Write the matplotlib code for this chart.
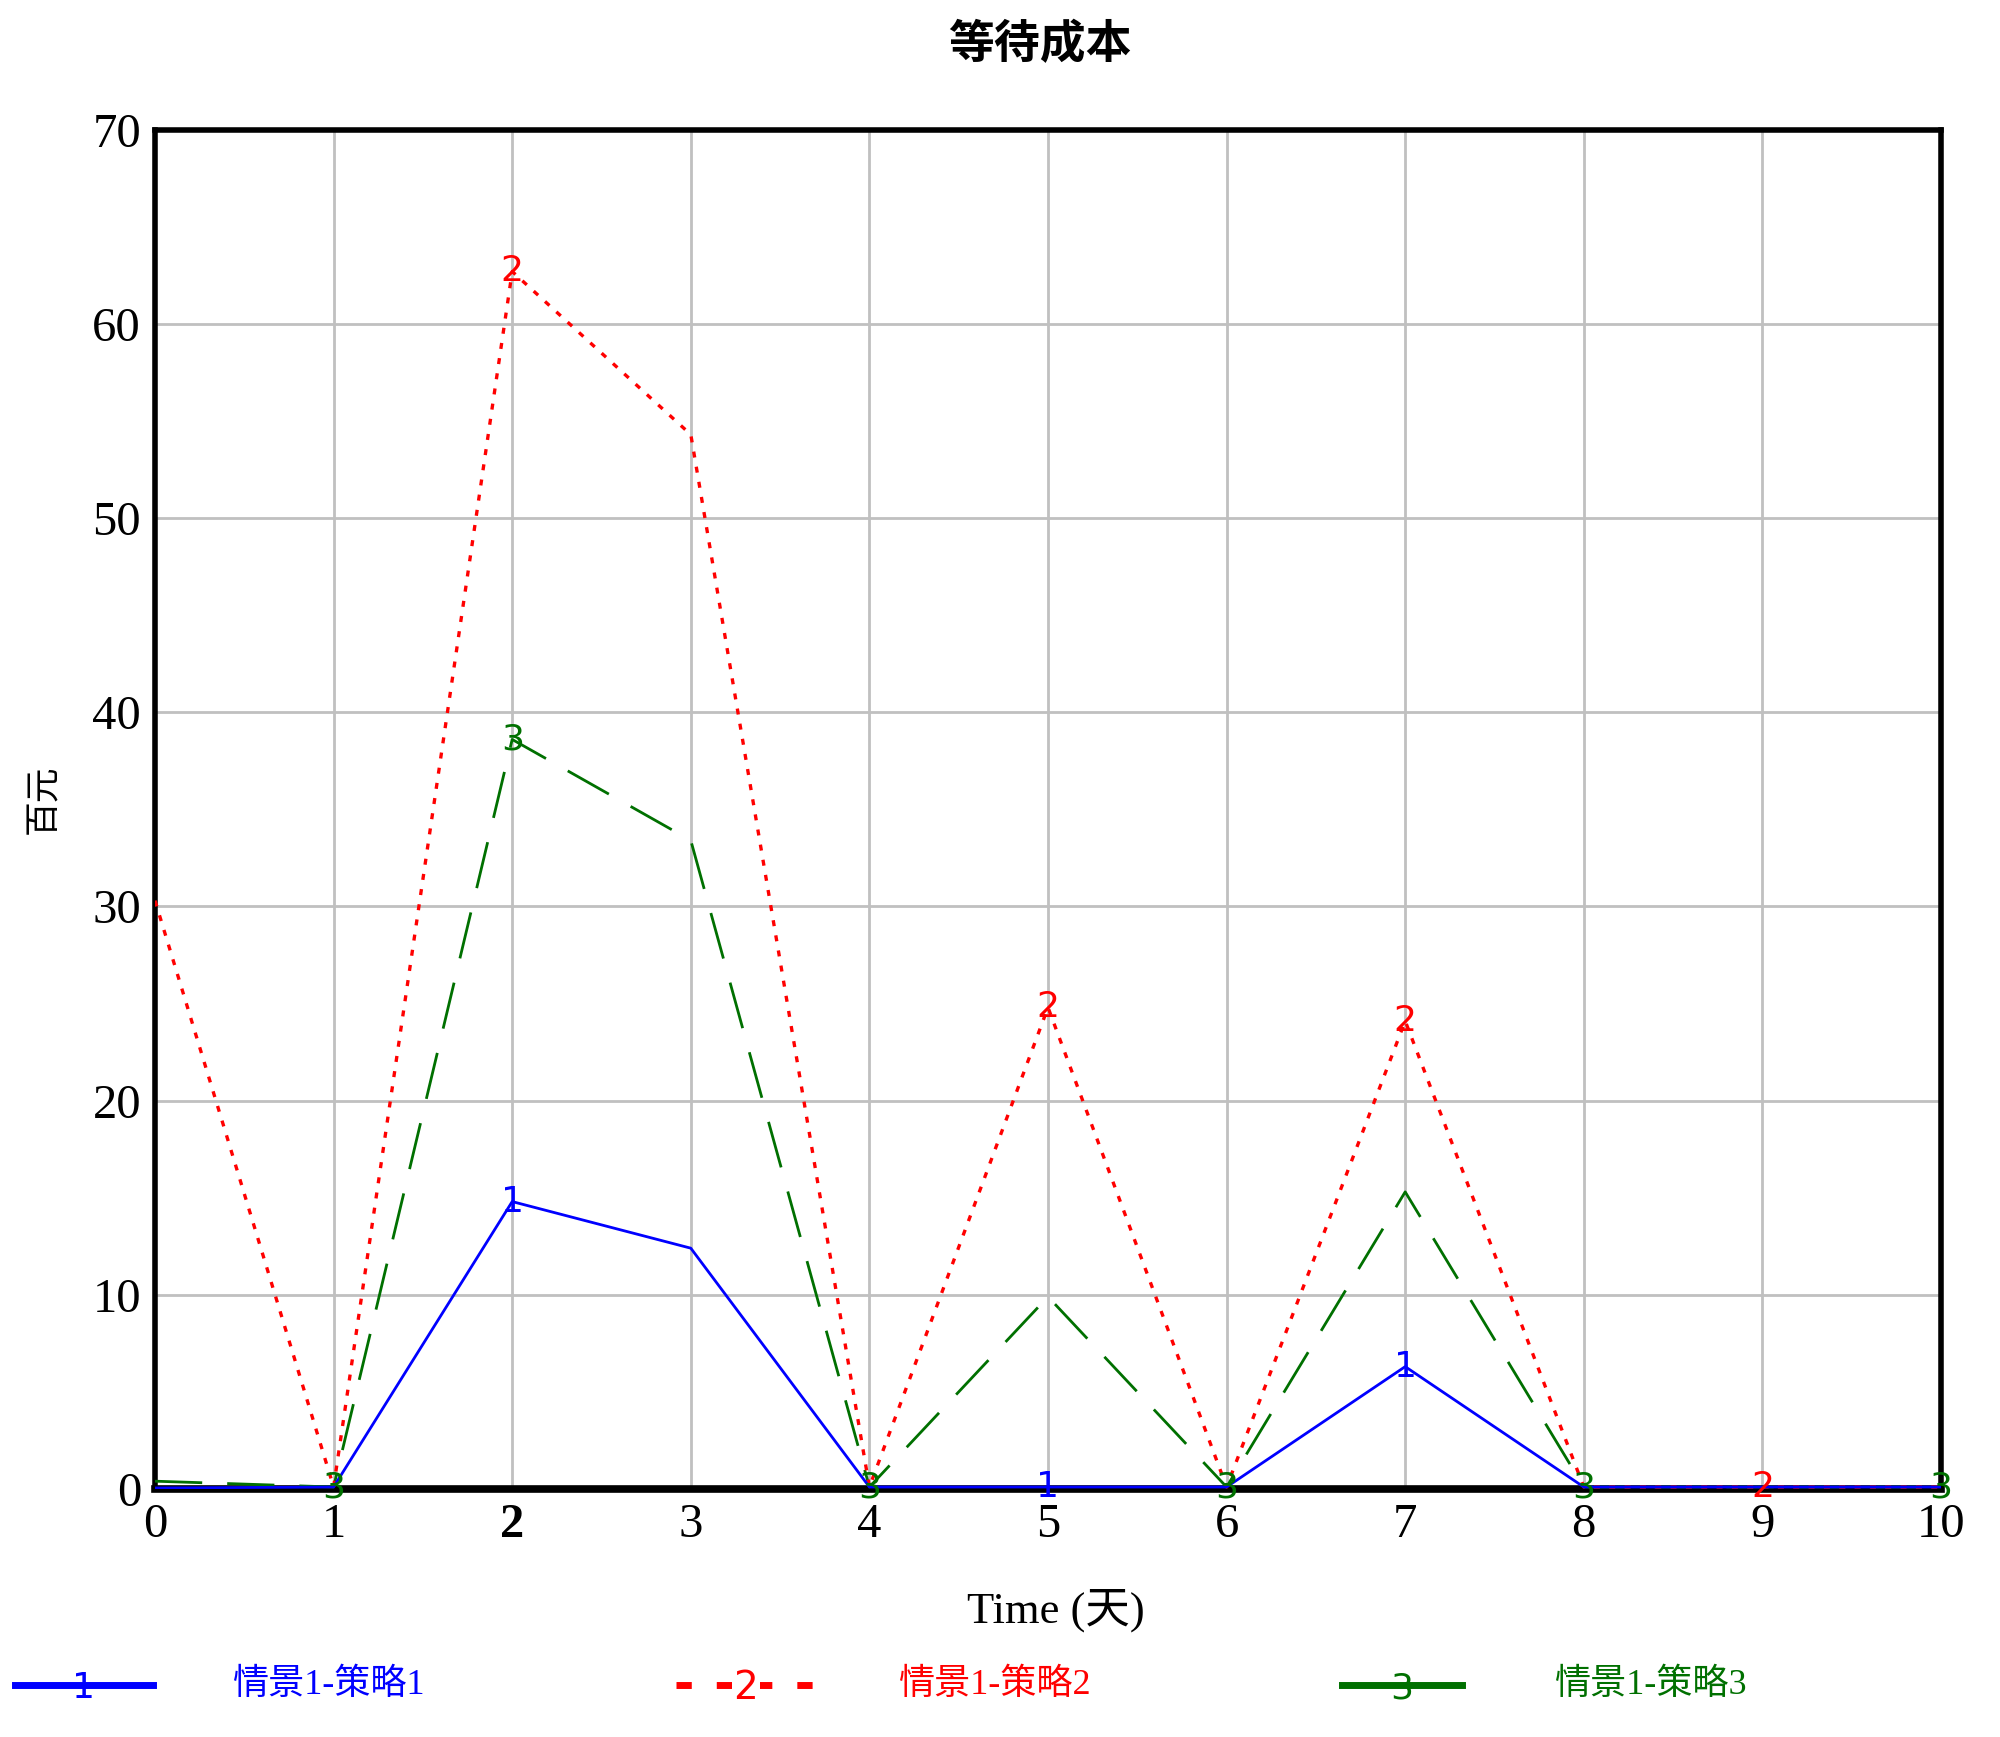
import matplotlib.pyplot as plt
from matplotlib.lines import Line2D

plt.rcParams['font.family'] = ['Liberation Serif', 'Noto Sans CJK SC', 'DejaVu Sans']

time = [0, 1, 2, 3, 4, 5, 6, 7, 8, 9, 10]
s1 = [0.05, 0.1, 14.8, 12.4, 0.1, 0.1, 0.1, 6.3, 0.1, 0.1, 0.1]
s2 = [30.3, 0.1, 62.7, 54.3, 0.1, 24.8, 0.1, 24.1, 0.1, 0.1, 0.1]
s3 = [0.4, 0.1, 38.6, 33.4, 0.1, 9.9, 0.1, 15.3, 0.1, 0.1, 0.1]
names = ['情景1-策略1', '情景1-策略2', '情景1-策略3']
# where the series numbers are written on the lines
marks1 = [2, 5, 7]
marks2 = [2, 5, 7, 9]
marks3 = [1, 2, 4, 6, 8, 10]

fig = plt.figure(figsize=(20, 17.37), dpi=100)
ax = fig.add_axes([0.0775, 0.1428, 0.893, 0.7825])

c1, c2, c3 = '#0000ff', '#ff0000', '#007000'
ax.plot(time, s1, color=c1, lw=2.0, zorder=5)
ax.plot(time, s2, color=c2, lw=2.4, ls=(0, (1.8, 2.8)), zorder=4)
ax.plot(time, s3, color=c3, lw=2.0, ls=(0, (17, 9)), zorder=3)

for xs, ys, lab, c in [(marks1, s1, '1', c1), (marks2, s2, '2', c2), (marks3, s3, '3', c3)]:
    for x in xs:
        ax.text(x, ys[x], lab, color=c, fontsize=26, family='DejaVu Sans',
                ha='center', va='center', zorder=6)

ax.set_xlim(0, 10)
ax.set_ylim(0, 70)
ax.set_xticks(range(0, 11))
ax.set_yticks(range(0, 71, 10))
ax.grid(True, color='#c0c0c0', lw=2)
ax.tick_params(length=0, labelsize=35, pad=10)
for lab in ax.get_xticklabels():
    if lab.get_text() == '2':
        lab.set_fontweight('bold')
for sp in ax.spines.values():
    sp.set_linewidth(4)
ax.spines['bottom'].set_linewidth(5.5)

fig.text(0.52, 0.974, '等待成本', ha='center', va='center', fontsize=33,
         family=['Noto Sans CJK SC'], fontweight='bold')
fig.text(0.528, 0.073, 'Time (天)', ha='center', va='center', fontsize=32)
fig.text(0.022, 0.54, '百元', ha='center', va='center', fontsize=25,
         rotation=90, family=['Noto Sans CJK SC'])

# legend row along the bottom
ly = 0.03
legend = [(0.0075, 0.0765, c1, '-', 5, '1', 0.116),
          (0.338, 0.408, c2, (0, (2.2, 3.6)), 5, '2', 0.449),
          (0.671, 0.731, c3, '-', 5, '3', 0.777)]
for (x0, x1, c, ls, lw, num, tx), name in zip(legend, names):
    fig.add_artist(Line2D([x0, x1], [ly, ly], color=c, lw=lw, ls=ls,
                          transform=fig.transFigure))
    fig.text((x0 + x1) / 2, ly - 0.002, num, color=c, fontsize=28 if num == '2' else 26,
             family='DejaVu Sans', ha='center', va='center',
             bbox=dict(facecolor='white', edgecolor='none', pad=1) if num == '2' else None)
    fig.text(tx, ly, name, color=c, fontsize=26, ha='left', va='center')

fig.savefig('out.png', dpi=100)
